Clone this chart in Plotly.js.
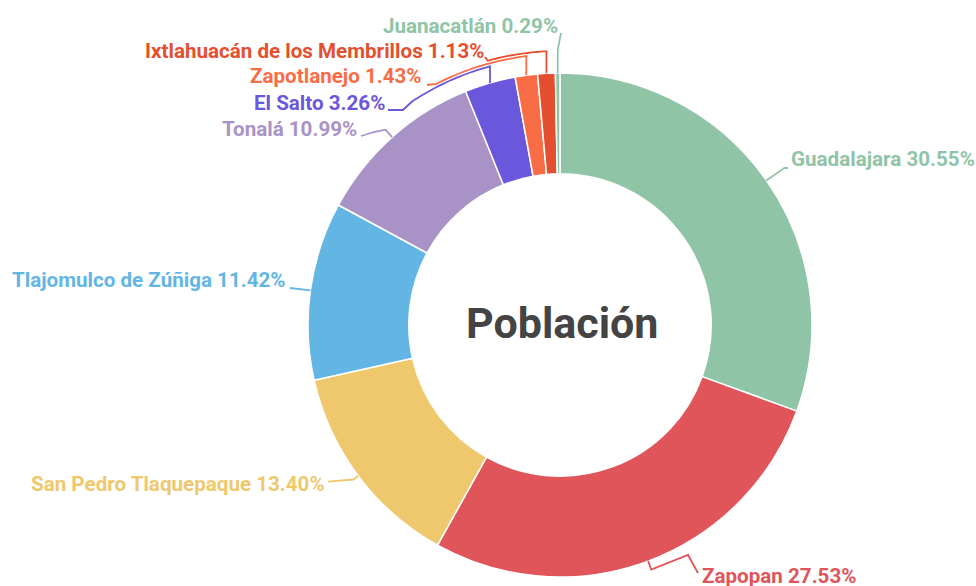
<!DOCTYPE html>
<html><head><meta charset="utf-8">
<script src="https://cdn.plot.ly/plotly-3.0.1.min.js"></script>
<style>html,body{margin:0;padding:0;background:#fff}#chart{width:976px;height:586px}</style>
</head><body><div id="chart"></div>
<script>
// ---- data ----
const municipios = ["Guadalajara", "Zapopan", "San Pedro Tlaquepaque", "Tlajomulco de Zúñiga", "Tonalá", "El Salto", "Zapotlanejo", "Ixtlahuacán de los Membrillos", "Juanacatlán"];
const porcentajes = [30.55, 27.53, 13.40, 11.42, 10.99, 3.26, 1.43, 1.13, 0.29];
const colores = ["#90c4a7", "#e0555a", "#efc86e", "#63b6e3", "#a993c6", "#6b57db", "#f96d46", "#e4502f", "#90c4a7"];
const tituloCentro = "Población";

// ---- layout (pixels) ----
const W = 976, H = 586, CX = 560, CY = 325, R = 252;
const etiquetas = [
  {anchor: 'left',  x: 789, y: 159, out: 22, via: [], end: [788, 168]},
  {anchor: 'left',  x: 700, y: 576, out: 9,  via: [[688, 555]], end: [698, 573]},
  {anchor: 'right', x: 327, y: 484, out: 6,  via: [], end: [328, 481.7]},
  {anchor: 'right', x: 288, y: 280, out: 0,  via: [], end: [290, 288]},
  {anchor: 'right', x: 359, y: 129, out: 10, via: [[374, 132]], end: [361, 136]},
  {anchor: 'right', x: 387, y: 103, arc: {r: 268, to: [413, 103]}, via: [[403, 110]], end: [388, 110]},
  {anchor: 'right', x: 424, y: 76,  arc: {r: 271, to: [437, 85]}, via: [], end: [427, 85]},
  {anchor: 'right', x: 486, y: 51,  arc: {r: 274, to: [488, 61.5]}, via: [], end: [485, 57]},
  {anchor: 'right', x: 560, y: 26,  arc: {r: 275, to: null}, via: [], end: [561, 33]}
];

const px = x => x / W;
const py = y => 1 - y / H;
const total = porcentajes.reduce((a, b) => a + b, 0);

const annotations = [];
const shapes = [];
let acc = 0;
porcentajes.forEach((v, i) => {
  const mid = (acc + v / 2) / total * 2 * Math.PI;
  acc += v;
  const L = etiquetas[i];
  const ex = CX + R * Math.sin(mid), ey = CY - R * Math.cos(mid);
  const pts = [[ex, ey]];
  if (L.out) pts.push([CX + (R + L.out) * Math.sin(mid), CY - (R + L.out) * Math.cos(mid)]);
  if (L.arc) {
    const ra = L.arc.r;
    const sy = CY - Math.sqrt(ra * ra - (ex - CX) * (ex - CX));
    pts.push([ex, sy]);
    if (L.arc.to) {
      const a0 = Math.atan2(ex - CX, CY - sy);
      const a1 = Math.atan2(L.arc.to[0] - CX, CY - L.arc.to[1]);
      const n = 24;
      for (let k = 1; k <= n; k++) {
        const a = a0 + (a1 - a0) * k / n;
        pts.push([CX + ra * Math.sin(a), CY - ra * Math.cos(a)]);
      }
    }
  }
  L.via.forEach(p => pts.push(p));
  pts.push(L.end);
  const path = pts.map((p, k) => (k ? 'L' : 'M') + px(p[0]).toFixed(5) + ',' + py(p[1]).toFixed(5)).join(' ');
  shapes.push({type: 'path', xref: 'paper', yref: 'paper', path: path,
    line: {color: colores[i], width: 1.8}, fillcolor: 'rgba(0,0,0,0)'});
  annotations.push({
    xref: 'paper', yref: 'paper', x: px(L.x), y: py(L.y),
    xanchor: L.anchor, yanchor: 'middle', showarrow: false,
    text: municipios[i] + ' ' + v.toFixed(2) + '%',
    font: {family: 'Roboto, sans-serif', size: 20.6, color: colores[i], weight: 700}
  });
});

annotations.push({
  xref: 'paper', yref: 'paper', x: px(562), y: py(323),
  xanchor: 'center', yanchor: 'middle', showarrow: false,
  text: tituloCentro,
  font: {family: 'Roboto, sans-serif', size: 43, color: '#444444', weight: 700}
});

const trace = {
  type: 'pie',
  labels: municipios,
  values: porcentajes,
  hole: 0.6,
  sort: false,
  direction: 'clockwise',
  rotation: 0,
  textinfo: 'none',
  hoverinfo: 'label+percent',
  marker: {colors: colores, line: {color: '#ffffff', width: 1.5}},
  domain: {x: [(CX - R) / W, (CX + R) / W], y: [1 - (CY + R) / H, 1 - (CY - R) / H]},
  showlegend: false
};

Plotly.newPlot('chart', [trace], {
  width: W, height: H,
  margin: {l: 0, r: 0, t: 0, b: 0},
  paper_bgcolor: '#ffffff',
  showlegend: false,
  annotations: annotations,
  shapes: shapes
}, {displayModeBar: false, staticPlot: true});
</script>
</body></html>
